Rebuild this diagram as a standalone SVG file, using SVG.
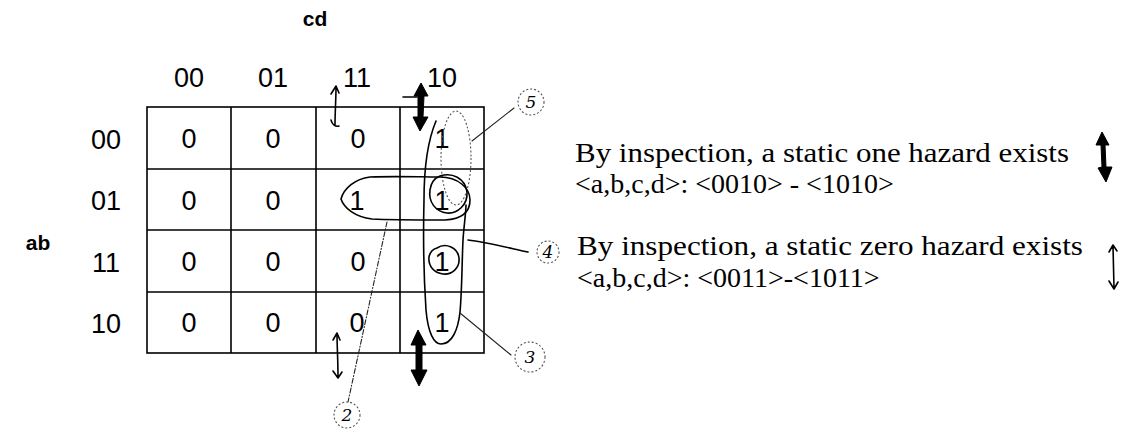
<svg xmlns="http://www.w3.org/2000/svg" width="1130" height="436" viewBox="0 0 1130 436">
<style>
.lbl{font-family:"Liberation Sans",Arial,sans-serif;font-size:27px;fill:#000;text-anchor:middle}
.var{font-family:"Liberation Sans",Arial,sans-serif;font-size:21px;font-weight:bold;fill:#000;text-anchor:middle}
.note{font-family:"Liberation Serif","Times New Roman",serif;font-size:28px;fill:#000}
.grid{fill:none;stroke:#000;stroke-width:1.6}
.hand{fill:none;stroke:#000;stroke-width:1.6;stroke-linecap:round;stroke-linejoin:round}
.thin{fill:none;stroke:#222;stroke-width:1.1;stroke-linecap:round}
.dot{fill:none;stroke:#555;stroke-width:1.1;stroke-dasharray:2 2}
.hnum{font-family:"DejaVu Serif",serif;font-style:italic;font-size:17px;fill:#000;text-anchor:middle}
.thick{fill:#000;stroke:#000;stroke-width:1;stroke-linejoin:round}
</style>
<rect width="1130" height="436" fill="#fff"/>

<g id="axis-labels">
<text class="var" x="315" y="26">cd</text>
<text class="var" x="38" y="250">ab</text>
<text class="lbl" x="189" y="87">00</text>
<text class="lbl" x="273" y="87">01</text>
<text class="lbl" x="357" y="87">11</text>
<text class="lbl" x="442" y="87">10</text>
<text class="lbl" x="106" y="149">00</text>
<text class="lbl" x="106" y="210">01</text>
<text class="lbl" x="106" y="272">11</text>
<text class="lbl" x="106" y="333">10</text>
</g>

<g id="kmap">
<rect class="grid" x="147" y="107" width="337" height="246"/>
<path class="grid" d="M231 107V353M316 107V353M400 107V353M147 169H484M147 230H484M147 292H484"/>
<text class="lbl" x="189" y="148">0</text>
<text class="lbl" x="273" y="148">0</text>
<text class="lbl" x="358" y="148">0</text>
<text class="lbl" x="442" y="148">1</text>
<text class="lbl" x="189" y="210">0</text>
<text class="lbl" x="273" y="210">0</text>
<text class="lbl" x="357" y="210">1</text>
<text class="lbl" x="442" y="210">1</text>
<text class="lbl" x="189" y="271">0</text>
<text class="lbl" x="273" y="271">0</text>
<text class="lbl" x="358" y="271">0</text>
<text class="lbl" x="442" y="271">1</text>
<text class="lbl" x="189" y="332">0</text>
<text class="lbl" x="273" y="332">0</text>
<text class="lbl" x="357" y="332">0</text>
<text class="lbl" x="442" y="332">1</text>
</g>

<g id="loops">
<path class="hand" d="M436 121C428 140 424 170 424 200C423 240 424 280 426 310C428 333 434 344 441 344C452 344 458 330 460 312C462 290 462 260 463 240C464 225 466 212 466 205"/>
<ellipse class="dot" cx="456" cy="158" rx="15" ry="47"/>
<path class="hand" d="M341 199C344 188 355 179 370 177C395 176 420 177 440 177C458 177 470 188 470 200C470 212 462 219 445 220C420 220 390 220 372 219C355 217 344 208 341 199Z"/>
<path class="hand" d="M440 176C452 172 465 178 467 192C468 205 457 214 447 213C436 212 428 202 430 190C431 182 435 178 440 176"/>
<path class="hand" d="M437 248C446 242 458 248 459 258C460 268 452 275 443 274C434 273 428 266 429 257C430 252 433 249 437 248"/>
</g>

<g id="connectors">
<path class="thin" d="M472 141L514 108"/>
<path class="hand" d="M468 240C485 242 505 247 528 252"/>
<path class="thin" d="M460 313L511 355"/>
<path class="thin" stroke-dasharray="5 2 1 2" d="M387 222L348 402"/>
<path class="hand" d="M335 125C335 112 336 100 336 87M331 94L336 86L339 93M331 120C332 124 335 127 339 126"/>
<path class="hand" d="M337 333C337 346 338 360 338 377M333 340L337 333L340 340M333 371L338 378L342 372"/>
<path class="thick" d="M421 83L428 96L424 96L423 117L428 117L420 131L413 117L418 117L418 96L414 96Z"/>
<path class="hand" d="M403 97L417 97"/>
<path class="thick" d="M418 330L426 345L422 345L422 370L427 370L419 386L411 370L416 370L416 345L411 345Z"/>
<path class="thick" d="M1102 132L1109 145L1105 145L1106 167L1112 167L1106 182L1098 168L1102 167L1101 145L1096 145Z"/>
<path class="hand" d="M1113 246L1114 288M1109 252L1113 245L1117 251M1109 281L1114 289L1118 282"/>
</g>

<g id="tags">
<circle class="dot" cx="531" cy="102" r="13"/>
<text class="hnum" x="531" y="108">5</text>
<text class="hnum" x="548" y="258">4</text>
<circle class="dot" cx="548" cy="252" r="11"/>
<circle class="dot" cx="530" cy="357" r="15"/>
<text class="hnum" x="530" y="363">3</text>
<circle class="dot" cx="347" cy="415" r="13"/>
<text class="hnum" x="347" y="421">2</text>
</g>

<g id="notes">
<text class="note" x="575" y="162" textLength="494" lengthAdjust="spacingAndGlyphs">By inspection, a static one hazard exists</text>
<text class="note" x="575" y="193">&lt;a,b,c,d&gt;: &lt;0010&gt; - &lt;1010&gt;</text>
<text class="note" x="577" y="255" textLength="506" lengthAdjust="spacingAndGlyphs">By inspection, a static zero hazard exists</text>
<text class="note" x="577" y="287">&lt;a,b,c,d&gt;: &lt;0011&gt;-&lt;1011&gt;</text>
</g>
</svg>
